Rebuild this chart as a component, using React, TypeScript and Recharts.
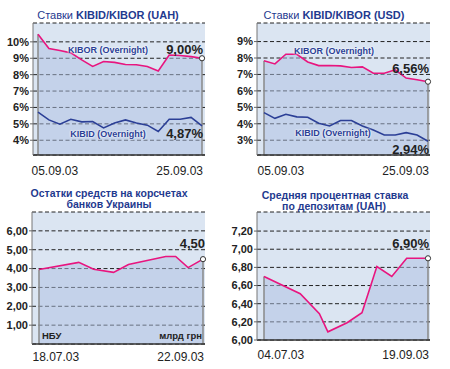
import React from 'react';
import { ComposedChart, Line, Area, XAxis, YAxis, CartesianGrid, ReferenceLine } from 'recharts';

const FONT_N = "'Liberation Sans Narrow','Arial Narrow','Liberation Sans',Arial,sans-serif";
const FONT = "'Liberation Sans',Arial,sans-serif";

// ---- data ----
const rateDates = ['05.09.03', '06.09.03', '08.09.03', '09.09.03', '10.09.03', '11.09.03', '12.09.03', '15.09.03',
  '16.09.03', '17.09.03', '18.09.03', '19.09.03', '22.09.03', '23.09.03', '24.09.03', '25.09.03'];
const uahKibor = [10.47, 9.6, 9.47, 9.33, 8.9, 8.5, 8.8, 8.75, 8.62, 8.6, 8.5, 8.22, 9.2, 9.17, 9.1, 9.0];
const uahKibid = [5.71, 5.24, 4.98, 5.28, 5.12, 5.14, 4.75, 5.05, 5.24, 5.05, 4.92, 4.53, 5.28, 5.28, 5.39, 4.87];
const usdKibor = [7.84, 7.64, 8.23, 8.23, 7.76, 7.54, 7.54, 7.52, 7.42, 7.46, 7.07, 7.07, 7.28, 6.78, 6.68, 6.56];
const usdKibid = [4.68, 4.33, 4.58, 4.42, 4.4, 4.03, 3.87, 4.2, 4.2, 3.87, 3.62, 3.32, 3.32, 3.46, 3.32, 2.94];

const balanceDates = ['18.07.03', '03.08.03', '09.08.03', '17.08.03', '23.08.03', '07.09.03', '11.09.03', '16.09.03', '22.09.03'];
const balanceValues = [3.95, 4.33, 3.96, 3.8, 4.22, 4.64, 4.64, 4.05, 4.5];

const depositDates = ['04.07.03', '21.07.03', '30.07.03', '03.08.03', '12.08.03', '19.08.03', '26.08.03', '02.09.03', '09.09.03', '19.09.03'];
const depositValues = [6.7, 6.51, 6.29, 6.09, 6.19, 6.3, 6.81, 6.7, 6.9, 6.9];

const uahTicks = [4, 5, 6, 7, 8, 9, 10];
const usdTicks = [3, 4, 5, 6, 7, 8, 9];
const balanceTicks = [1, 2, 3, 4, 5, 6];
const depositTicks = [6.0, 6.2, 6.4, 6.6, 6.8, 7.0, 7.2];

const dayOf = (s: string) => {
  const [d, m, y] = s.split('.').map(Number);
  return Date.UTC(2000 + y, m - 1, d) / 86400000;
};

const uahData = rateDates.map((d, i) => ({ d, top: uahKibor[i], low: uahKibid[i] }));
const usdData = rateDates.map((d, i) => ({ d, top: usdKibor[i], low: usdKibid[i] }));
const balanceData = balanceDates.map((d, i) => ({ d: dayOf(d) - dayOf(balanceDates[0]), top: balanceValues[i] }));
const depositData = depositDates.map((d, i) => ({ d: dayOf(d) - dayOf(depositDates[0]), top: depositValues[i] }));

const pct = (v: number) => `${v}%`;
const dec = (v: number) => v.toFixed(2).replace('.', ',');

const BG = '#dbe5f2';
const AREA = '#adbfe1';
const PINK = '#e8157f';
const BLUE = '#2b3f96';
const TITLE = '#1f3a8f';

type PanelProps = {
  left: number; top: number; width: number; height: number;
  margin: { top: number; right: number; bottom: number; left: number };
  yWidth: number;
  data: any[];
  numericX: boolean;
  xPad: { left: number; right: number };
  domain: [number, number];
  yTicks: number[];
  yFmt: (v: number) => string;
  xLabels: string[];
  xLabelDy: number;
  hasLow: boolean;
};

function Panel(p: PanelProps) {
  const first = p.data[0];
  const last = p.data[p.data.length - 1];
  const lastIdx = p.data.length - 1;
  const xTicks = [first.d, last.d];
  const XTick = (props: any) => {
    const { x, y, payload } = props;
    const isFirst = payload.value === first.d;
    return (
      <text x={isFirst ? x - 6.5 : x + 1} y={y + p.xLabelDy} textAnchor={isFirst ? 'start' : 'end'}
        fontSize={12} fontFamily={FONT_N} fill="#222" dy="0.71em">
        {isFirst ? p.xLabels[0] : p.xLabels[1]}
      </text>
    );
  };
  return (
    <div style={{ position: 'absolute', left: p.left, top: p.top }}>
      <ComposedChart width={p.width} height={p.height} data={p.data} margin={p.margin}>
        <CartesianGrid vertical={false} fill={BG} stroke="#222" strokeDasharray="4 2.5" strokeWidth={1} />
        <XAxis dataKey="d" type={p.numericX ? 'number' : 'category'} domain={p.numericX ? ['dataMin', 'dataMax'] : undefined}
          padding={p.xPad} ticks={xTicks} interval={0} tick={<XTick />} tickLine={false}
          axisLine={{ stroke: '#333', strokeWidth: 1.6 }} height={20} />
        <YAxis type="number" domain={p.domain} allowDataOverflow ticks={p.yTicks} tickFormatter={p.yFmt}
          width={p.yWidth} tickSize={3} tickMargin={1} interval={0}
          tick={{ fontSize: 11, fill: '#222', fontFamily: FONT_N, fontWeight: 'bold' }}
          tickLine={{ stroke: '#666' }} axisLine={{ stroke: '#777' }} />
        <Area dataKey="top" type="linear" fill={AREA} fillOpacity={0.5} stroke="none"
          baseValue={p.domain[0]} isAnimationActive={false} />
        <ReferenceLine segment={[{ x: first.d, y: p.domain[0] }, { x: first.d, y: first.top }]} stroke="#888" strokeWidth={1.5} ifOverflow="visible" />
        <ReferenceLine segment={[{ x: last.d, y: p.domain[0] }, { x: last.d, y: last.top }]} stroke="#888" strokeWidth={1.5} ifOverflow="visible" />
        {p.hasLow && (
          <Line dataKey="low" type="linear" stroke={BLUE} strokeWidth={1.6} dot={false} isAnimationActive={false} />
        )}
        <Line dataKey="top" type="linear" stroke={PINK} strokeWidth={1.6} isAnimationActive={false}
          dot={(dp: any) => dp.index === lastIdx
            ? <circle key={`dot-${dp.index}`} cx={dp.cx} cy={dp.cy} r={2.6} fill="#fff" stroke="#333" strokeWidth={1} />
            : <g key={`dot-${dp.index}`} />} />
      </ComposedChart>
    </div>
  );
}

type TxtProps = { x: number; y: number; anchor?: 'start' | 'middle' | 'end'; size: number; weight?: string | number; color?: string; font?: string; halo?: boolean; children: React.ReactNode };
function Txt({ x, y, anchor = 'middle', size, weight = 'normal', color = '#222', font = FONT_N, halo, children }: TxtProps) {
  const tx = anchor === 'start' ? '0' : anchor === 'middle' ? '-50%' : '-100%';
  return (
    <div style={{
      position: 'absolute', left: x, top: y, transform: `translate(${tx}, -50%)`, whiteSpace: 'nowrap',
      fontSize: size, fontWeight: weight as any, color, fontFamily: font, lineHeight: 1,
      textShadow: halo ? '0 0 2px #fff, 0 0 2px #fff' : undefined,
    }}>{children}</div>
  );
}

export default function App() {
  return (
    <div style={{ position: 'fixed', left: 0, top: 0, width: 450, height: 369, background: '#fff', overflow: 'hidden' }}>
      <Panel left={0} top={0} width={225} height={185} margin={{ top: 23, right: 20, bottom: 10, left: 0 }} yWidth={33}
        data={uahData} numericX={false} xPad={{ left: 5, right: 3 }} domain={[3.1, 11.15]} yTicks={uahTicks} yFmt={pct}
        xLabels={[rateDates[0], rateDates[rateDates.length - 1]]} xLabelDy={3} hasLow />
      <Panel left={225} top={0} width={225} height={185} margin={{ top: 23, right: 20, bottom: 10, left: 0 }} yWidth={32}
        data={usdData} numericX={false} xPad={{ left: 7, right: 2 }} domain={[2.1, 10.13]} yTicks={usdTicks} yFmt={pct}
        xLabels={[rateDates[0], rateDates[rateDates.length - 1]]} xLabelDy={3} hasLow />
      <Panel left={0} top={185} width={225} height={184} margin={{ top: 27, right: 20, bottom: 5, left: 0 }} yWidth={32}
        data={balanceData} numericX xPad={{ left: 7, right: 2 }} domain={[0, 7]} yTicks={balanceTicks} yFmt={dec}
        xLabels={[balanceDates[0], balanceDates[balanceDates.length - 1]]} xLabelDy={0} hasLow={false} />
      <Panel left={225} top={185} width={225} height={184} margin={{ top: 27, right: 20, bottom: 9, left: 0 }} yWidth={32}
        data={depositData} numericX xPad={{ left: 7, right: 2 }} domain={[6, 7.41]} yTicks={depositTicks} yFmt={dec}
        xLabels={[depositDates[0], depositDates[depositDates.length - 1]]} xLabelDy={2} hasLow={false} />

      {/* titles */}
      <Txt x={108} y={15} size={11} color={TITLE} font={FONT}>Ставки <b>KIBID/KIBOR (UAH)</b></Txt>
      <Txt x={334} y={15} size={11} color={TITLE} font={FONT}>Ставки <b>KIBID/KIBOR (USD)</b></Txt>
      <Txt x={109} y={193} size={10.5} color={TITLE} font={FONT} weight="bold">Остатки средств на корсчетах</Txt>
      <Txt x={109} y={204} size={10.5} color={TITLE} font={FONT} weight="bold">банков Украины</Txt>
      <Txt x={335} y={195} size={10.5} color={TITLE} font={FONT} weight="bold">Средняя процентная ставка</Txt>
      <Txt x={334} y={206} size={10.5} color={TITLE} font={FONT} weight="bold">по депозитам (UAH)</Txt>

      {/* series labels */}
      <Txt x={108} y={50} size={9} weight="bold" color={BLUE} halo>KIBOR (Overnight)</Txt>
      <Txt x={108} y={134} size={9} weight="bold" color={BLUE} halo>KIBID (Overnight)</Txt>
      <Txt x={334} y={50.5} size={9} weight="bold" color={BLUE} halo>KIBOR (Overnight)</Txt>
      <Txt x={333} y={132.5} size={9} weight="bold" color={BLUE} halo>KIBID (Overnight)</Txt>

      {/* value labels */}
      <Txt x={203} y={49} anchor="end" size={13} weight="bold">9,00%</Txt>
      <Txt x={203} y={133} anchor="end" size={13} weight="bold">4,87%</Txt>
      <Txt x={429} y={67.5} anchor="end" size={13} weight="bold">6,56%</Txt>
      <Txt x={429} y={148.5} anchor="end" size={13} weight="bold">2,94%</Txt>
      <Txt x={205} y={243} anchor="end" size={13} weight="bold">4,50</Txt>
      <Txt x={429} y={242.5} anchor="end" size={13} weight="bold">6,90%</Txt>

      <Txt x={42} y={336} anchor="start" size={9.5} weight="bold">НБУ</Txt>
      <Txt x={202} y={336} anchor="end" size={9.5} weight="bold">млрд грн</Txt>
    </div>
  );
}
